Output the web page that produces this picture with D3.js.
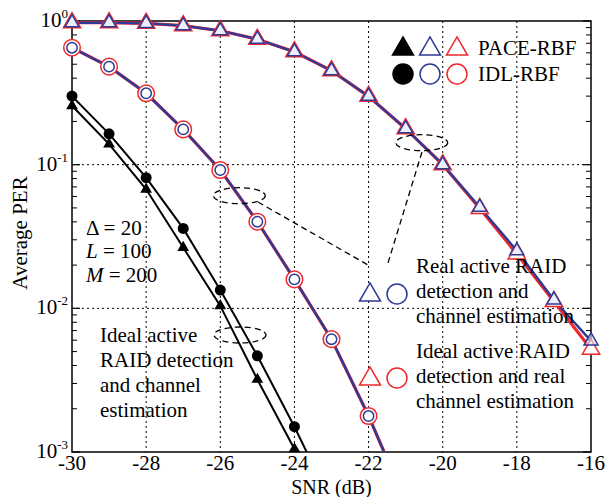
<!DOCTYPE html>
<html>
<head>
<meta charset="utf-8">
<script src="https://cdn.jsdelivr.net/npm/d3@7"></script>
<style>
  body { margin: 0; background: #fff; }
  text { font-family: "Liberation Serif", "Times New Roman", serif; fill: #000; }
</style>
</head>
<body>
<svg id="chart"></svg>
<script>
// SNR points (dB)
const snr = [-30, -29, -28, -27, -26, -25, -24, -23, -22, -21, -20, -19, -18, -17, -16];

// PACE-RBF, triangles
const paceReal  = [0.973, 0.973, 0.963, 0.928, 0.856, 0.746, 0.611, 0.451, 0.299, 0.178, 0.100, 0.0506, 0.0252, 0.01144, 0.00594];
const paceIdeal = [0.973, 0.973, 0.963, 0.928, 0.856, 0.746, 0.611, 0.451, 0.299, 0.178, 0.100, 0.0495, 0.0239, 0.01114, 0.00520];
const paceBest  = [0.257, 0.139, 0.0674, 0.0265, 0.0104, 0.0032, 0.00105, 0.00033, null, null, null, null, null, null, null];

// IDL-RBF, circles
const idlReal  = [0.652, 0.481, 0.314, 0.176, 0.0918, 0.0401, 0.0159, 0.0061, 0.00178, 0.00045, null, null, null, null, null];
const idlIdeal = [0.652, 0.481, 0.314, 0.176, 0.0918, 0.0401, 0.0159, 0.0061, 0.00178, 0.00045, null, null, null, null, null];
const idlBest  = [0.300, 0.164, 0.0812, 0.036, 0.0134, 0.00467, 0.0015, 0.00044, null, null, null, null, null, null, null];

const xTicks = [-30, -28, -26, -24, -22, -20, -18, -16];
const yTicks = [1, 0.1, 0.01, 0.001];
const yExp = ["0", "-1", "-2", "-3"];

const W = 608, H = 497;
const margin = { top: 21, right: 17, bottom: 45, left: 72 };
const width = W - margin.left - margin.right;
const height = H - margin.top - margin.bottom;

const blue = "#2e3a96", red = "#f0282d";

const svg = d3.select("#chart").attr("width", W).attr("height", H);

const x = d3.scaleLinear().domain([-30, -16]).range([0, width]);
const y = d3.scaleLog().domain([0.001, 1]).range([height, 0]);

const g = svg.append("g").attr("transform", "translate(" + margin.left + "," + margin.top + ")");

svg.append("defs").append("clipPath").attr("id", "clip")
  .append("rect").attr("width", width).attr("height", height);

// dotted grid
g.selectAll(".gx").data(xTicks.slice(1, -1)).enter().append("line")
  .attr("x1", d => x(d)).attr("x2", d => x(d)).attr("y1", 0).attr("y2", height)
  .attr("stroke", "#000").attr("stroke-width", 1).attr("stroke-dasharray", "2,3");
g.selectAll(".gy").data(yTicks.slice(1, -1)).enter().append("line")
  .attr("x1", 0).attr("x2", width).attr("y1", d => y(d)).attr("y2", d => y(d))
  .attr("stroke", "#000").attr("stroke-width", 1).attr("stroke-dasharray", "2,3");

// minor ticks on left and right (inside)
const minor = [];
[0.001, 0.01, 0.1].forEach(dec => { for (let k = 2; k <= 9; k++) minor.push(dec * k); });
g.selectAll(".ml").data(minor).enter().append("line")
  .attr("x1", 0).attr("x2", 5).attr("y1", d => y(d)).attr("y2", d => y(d))
  .attr("stroke", "#000").attr("stroke-width", 1);
g.selectAll(".mr").data(minor).enter().append("line")
  .attr("x1", width).attr("x2", width - 5).attr("y1", d => y(d)).attr("y2", d => y(d))
  .attr("stroke", "#000").attr("stroke-width", 1);
g.selectAll(".Ml").data(yTicks).enter().append("line")
  .attr("x1", 0).attr("x2", 8).attr("y1", d => y(d)).attr("y2", d => y(d))
  .attr("stroke", "#000").attr("stroke-width", 1.2);
g.selectAll(".Mr").data(yTicks).enter().append("line")
  .attr("x1", width).attr("x2", width - 8).attr("y1", d => y(d)).attr("y2", d => y(d))
  .attr("stroke", "#000").attr("stroke-width", 1.2);

// frame
g.append("rect").attr("width", width).attr("height", height)
  .attr("fill", "none").attr("stroke", "#000").attr("stroke-width", 1.5);

// tick labels
g.selectAll(".xl").data(xTicks).enter().append("text")
  .attr("x", d => x(d)).attr("y", height + 18)
  .attr("text-anchor", "middle").attr("font-size", 21)
  .text(d => d);

const yl = g.selectAll(".yl").data(yTicks).enter().append("text")
  .attr("x", -4).attr("y", d => y(d) + 6)
  .attr("text-anchor", "end").attr("font-size", 21);
yl.append("tspan").text("10");
yl.append("tspan").attr("dy", -9).attr("font-size", 13).text((d, i) => yExp[i]);

// axis titles
svg.append("text").attr("x", margin.left + width / 2).attr("y", 494)
  .attr("text-anchor", "middle").attr("font-size", 20).text("SNR (dB)");
svg.append("text").attr("transform", "translate(27," + 233 + ") rotate(-90)")
  .attr("text-anchor", "middle").attr("font-size", 21).text("Average PER");

// curves
const plot = g.append("g").attr("clip-path", "url(#clip)");
const line = d3.line()
  .defined(d => d[1] != null)
  .x(d => x(d[0])).y(d => y(d[1]));

function pts(vals) {
  return snr.map((s, i) => [s, vals[i]]);
}
function vis(vals) {
  return pts(vals).filter(d => d[1] != null && d[1] >= 0.00099);
}

plot.append("path").datum(pts(paceBest)).attr("d", line)
  .attr("fill", "none").attr("stroke", "#000").attr("stroke-width", 2);
plot.append("path").datum(pts(idlBest)).attr("d", line)
  .attr("fill", "none").attr("stroke", "#000").attr("stroke-width", 2);
plot.append("path").datum(pts(paceIdeal)).attr("d", line)
  .attr("fill", "none").attr("stroke", red).attr("stroke-width", 3.2);
plot.append("path").datum(pts(paceReal)).attr("d", line)
  .attr("fill", "none").attr("stroke", blue).attr("stroke-width", 2.4);
plot.append("path").datum(pts(idlIdeal)).attr("d", line)
  .attr("fill", "none").attr("stroke", red).attr("stroke-width", 3.2);
plot.append("path").datum(pts(idlReal)).attr("d", line)
  .attr("fill", "none").attr("stroke", blue).attr("stroke-width", 2.4);

const tri = d3.symbol().type(d3.symbolTriangle);

// markers
g.selectAll(".bt").data(vis(paceBest)).enter().append("path")
  .attr("d", tri.size(60)()).attr("transform", d => "translate(" + x(d[0]) + "," + y(d[1]) + ")")
  .attr("fill", "#000");
g.selectAll(".bc").data(vis(idlBest)).enter().append("circle")
  .attr("cx", d => x(d[0])).attr("cy", d => y(d[1])).attr("r", 5.5).attr("fill", "#000");

g.selectAll(".rt").data(vis(paceIdeal)).enter().append("path")
  .attr("d", tri.size(130)()).attr("transform", d => "translate(" + x(d[0]) + "," + y(d[1]) + ")")
  .attr("fill", "#fff").attr("stroke", red).attr("stroke-width", 1.5);
g.selectAll(".ut").data(vis(paceReal)).enter().append("path")
  .attr("d", tri.size(85)()).attr("transform", d => "translate(" + x(d[0]) + "," + y(d[1]) + ")")
  .attr("fill", "#dfe3f5").attr("fill-opacity", 0.6).attr("stroke", blue).attr("stroke-width", 1.5);

g.selectAll(".rc").data(vis(idlIdeal)).enter().append("circle")
  .attr("cx", d => x(d[0])).attr("cy", d => y(d[1])).attr("r", 8.3)
  .attr("fill", "#fff").attr("stroke", red).attr("stroke-width", 1.5);
g.selectAll(".uc").data(vis(idlReal)).enter().append("circle")
  .attr("cx", d => x(d[0])).attr("cy", d => y(d[1])).attr("r", 5.2)
  .attr("fill", "none").attr("stroke", blue).attr("stroke-width", 1.5);

// dashed ellipses and leaders
const dash = "6,4";
[[421.7, 142.7], [239.3, 195.7], [240, 335]].forEach(c => {
  svg.append("ellipse").attr("cx", c[0]).attr("cy", c[1]).attr("rx", 26).attr("ry", 8)
    .attr("fill", "none").attr("stroke", "#000").attr("stroke-width", 1.3).attr("stroke-dasharray", dash);
});
svg.append("line").attr("x1", 258).attr("y1", 202).attr("x2", 368).attr("y2", 265)
  .attr("stroke", "#000").attr("stroke-width", 1.3).attr("stroke-dasharray", dash);
svg.append("line").attr("x1", 422).attr("y1", 152).attr("x2", 388).attr("y2", 263)
  .attr("stroke", "#000").attr("stroke-width", 1.3).attr("stroke-dasharray", dash);

// legend (top right)
const bigTri = tri.size(190)();
function legTri(cx, cy, fill, stroke) {
  svg.append("path").attr("d", bigTri).attr("transform", "translate(" + cx + "," + cy + ")")
    .attr("fill", fill).attr("stroke", stroke).attr("stroke-width", 1.5);
}
function legCirc(cx, cy, fill, stroke) {
  svg.append("circle").attr("cx", cx).attr("cy", cy).attr("r", 10)
    .attr("fill", fill).attr("stroke", stroke).attr("stroke-width", 1.5);
}
legTri(403, 49, "#000", "#000");
legTri(430, 49, "#fff", blue);
legTri(457, 49, "#fff", red);
legCirc(403, 74, "#000", "#000");
legCirc(430, 74, "#fff", blue);
legCirc(457, 74, "#fff", red);
svg.append("text").attr("x", 478).attr("y", 55).attr("font-size", 21).text("PACE-RBF");
svg.append("text").attr("x", 478).attr("y", 81).attr("font-size", 21).text("IDL-RBF");

legTri(370, 295, "#fff", blue);
legCirc(397, 294, "#fff", blue);
legTri(370, 379, "#fff", red);
legCirc(397, 378, "#fff", red);

function block(x0, y0, lines) {
  const t = svg.append("text").attr("x", x0).attr("y", y0).attr("font-size", 21);
  lines.forEach((s, i) => {
    t.append("tspan").attr("x", x0).attr("dy", i === 0 ? 0 : 25).text(s);
  });
}
block(416, 273, ["Real active RAID", "detection and", "channel estimation"]);
block(416, 358, ["Ideal active RAID", "detection and real", "channel estimation"]);
block(100, 342, ["Ideal active", "RAID detection", "and channel", "estimation"]);

// parameters
const p1 = svg.append("text").attr("x", 86).attr("y", 235).attr("font-size", 21);
p1.append("tspan").text("\u0394 = 20");
const p2 = svg.append("text").attr("x", 86).attr("y", 258).attr("font-size", 21);
p2.append("tspan").attr("font-style", "italic").text("L");
p2.append("tspan").text(" = 100");
const p3 = svg.append("text").attr("x", 86).attr("y", 282).attr("font-size", 21);
p3.append("tspan").attr("font-style", "italic").text("M");
p3.append("tspan").text(" = 200");
</script>
</body>
</html>
